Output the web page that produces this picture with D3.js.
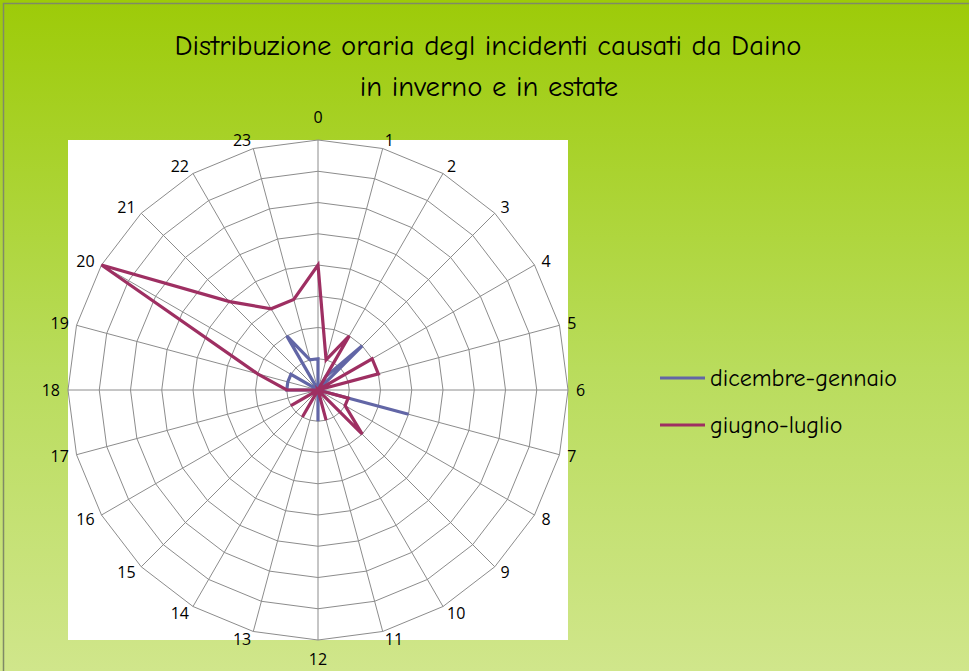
<!DOCTYPE html>
<html>
<head>
<meta charset="utf-8">
<script src="https://cdn.jsdelivr.net/npm/d3@7"></script>
<style>
  body { margin: 0; padding: 0; overflow: hidden; }
  svg { display: block; }
</style>
</head>
<body>
<svg id="radar" width="969" height="671"></svg>
<script>
// categories: hour of the day
const hourLabels = ["0","1","2","3","4","5","6","7","8","9","10","11",
                    "12","13","14","15","16","17","18","19","20","21","22","23"];
// series values
const dicembreGennaio = [2,0,1,4,0,0,0,6,0,0,0,0, 2,0,0,0,0,0,2,2,2,0,4,2];
const giugnoLuglio    = [8,2,4,0,4,4,0,2,2,4,0,2, 0,0,2,0,2,0,2,4,16,8,6,6];
// gridline values (axis labels hidden in the original)
const ringTicks = [2,4,6,8,10,12,14,16];

const seriesNames = ["dicembre-gennaio", "giugno-luglio"];
const seriesColors = ["#6266a6", "#9e2f62"];

let svg = d3.select("#radar");
let W = 969, H = 671;

// background gradient
let defs = svg.append("defs");
let grad = defs.append("linearGradient")
    .attr("id", "bg")
    .attr("x1", 0).attr("y1", 0).attr("x2", 0).attr("y2", 1);
grad.append("stop").attr("offset", "0%").attr("stop-color", "#9dcb08");
grad.append("stop").attr("offset", "55%").attr("stop-color", "#b9dc5c");
grad.append("stop").attr("offset", "100%").attr("stop-color", "#d0e68b");

svg.append("rect")
    .attr("x", 0).attr("y", 0)
    .attr("width", W).attr("height", H)
    .attr("fill", "url(#bg)");

// thin frame (only top and left edges show)
svg.append("rect")
    .attr("x", 3.5).attr("y", 3.5)
    .attr("width", W + 10).attr("height", H + 10)
    .attr("fill", "none")
    .attr("stroke", "#7f8a66")
    .attr("stroke-width", 1.5);

let cx = 318, cy = 390, R = 250;

// white plot area
svg.append("rect")
    .attr("x", cx - R).attr("y", cy - R)
    .attr("width", 2 * R).attr("height", 2 * R)
    .attr("fill", "#ffffff");

let angle = d3.scaleLinear()
    .domain([0, hourLabels.length])
    .range([0, 2 * Math.PI]);

let r = d3.scaleLinear()
    .domain([0, d3.max(ringTicks)])
    .range([0, R]);

let g = svg.append("g")
    .attr("transform", `translate(${cx},${cy})`);

// concentric polygon grid
let ringLine = d3.lineRadial()
    .angle((d, i) => angle(i))
    .radius(d => r(d))
    .curve(d3.curveLinearClosed);

g.selectAll(".ring")
    .data(ringTicks)
    .join("path")
    .attr("class", "ring")
    .attr("d", t => ringLine(hourLabels.map(() => t)))
    .attr("fill", "none")
    .attr("stroke", "#8c8c8c")
    .attr("stroke-width", 1);

// spokes
g.selectAll(".spoke")
    .data(hourLabels)
    .join("line")
    .attr("class", "spoke")
    .attr("x1", 0).attr("y1", 0)
    .attr("x2", (d, i) => r(d3.max(ringTicks)) * Math.sin(angle(i)))
    .attr("y2", (d, i) => -r(d3.max(ringTicks)) * Math.cos(angle(i)))
    .attr("stroke", "#8c8c8c")
    .attr("stroke-width", 1);

// category labels
function labelRadius(i) {
    if (i == 0) return R + 23;
    if (i == 12) return R + 19;
    return R + 8;
}
g.selectAll(".hour")
    .data(hourLabels)
    .join("text")
    .attr("class", "hour")
    .attr("x", (d, i) => labelRadius(i) * Math.sin(angle(i)))
    .attr("y", (d, i) => -labelRadius(i) * Math.cos(angle(i)))
    .attr("dy", "0.35em")
    .attr("text-anchor", (d, i) => i % 12 == 0 ? "middle" : (i < 12 ? "start" : "end"))
    .attr("font-family", "'Open Sans', 'Liberation Sans', sans-serif")
    .attr("font-size", "16px")
    .attr("fill", "#000")
    .text(d => d);

// series lines
let seriesLine = d3.lineRadial()
    .angle((d, i) => angle(i))
    .radius(d => r(d))
    .curve(d3.curveLinearClosed);

[dicembreGennaio, giugnoLuglio].forEach((vals, k) => {
    g.append("path")
        .attr("d", seriesLine(vals))
        .attr("fill", "none")
        .attr("stroke", seriesColors[k])
        .attr("stroke-width", 3.2)
        .attr("stroke-linejoin", "miter");
});

// title
let titleFont = "'Comic Sans MS', 'Comic Neue', 'Noto Sans', sans-serif";
function fitText(sel, targetWidth) {
    let w = sel.node().getComputedTextLength();
    let fs = parseFloat(sel.attr("font-size"));
    sel.attr("font-size", (fs * targetWidth / w).toFixed(2) + "px");
}

let t1 = svg.append("text")
    .attr("x", 488).attr("y", 55)
    .attr("text-anchor", "middle")
    .attr("font-family", titleFont)
    .attr("font-size", "24px")
    .attr("fill", "#000")
    .text("Distribuzione oraria degl incidenti causati da Daino");
fitText(t1, 627);

let t2 = svg.append("text")
    .attr("x", 489).attr("y", 96)
    .attr("text-anchor", "middle")
    .attr("font-family", titleFont)
    .attr("font-size", "24px")
    .attr("fill", "#000")
    .text("in inverno e in estate");
t2.attr("font-size", t1.attr("font-size"));

// legend
let legend = svg.append("g");
seriesNames.forEach((name, k) => {
    let y = 378 + k * 47;
    legend.append("line")
        .attr("x1", 660).attr("x2", 705)
        .attr("y1", y).attr("y2", y)
        .attr("stroke", seriesColors[k])
        .attr("stroke-width", 3);
    let lt = legend.append("text")
        .attr("x", 710).attr("y", y)
        .attr("dy", "0.35em")
        .attr("font-family", titleFont)
        .attr("font-size", "22px")
        .attr("fill", "#000")
        .text(name);
    if (k == 0) fitText(lt, 187);
    else lt.attr("font-size", legend.select("text").attr("font-size"));
});
</script>
</body>
</html>
